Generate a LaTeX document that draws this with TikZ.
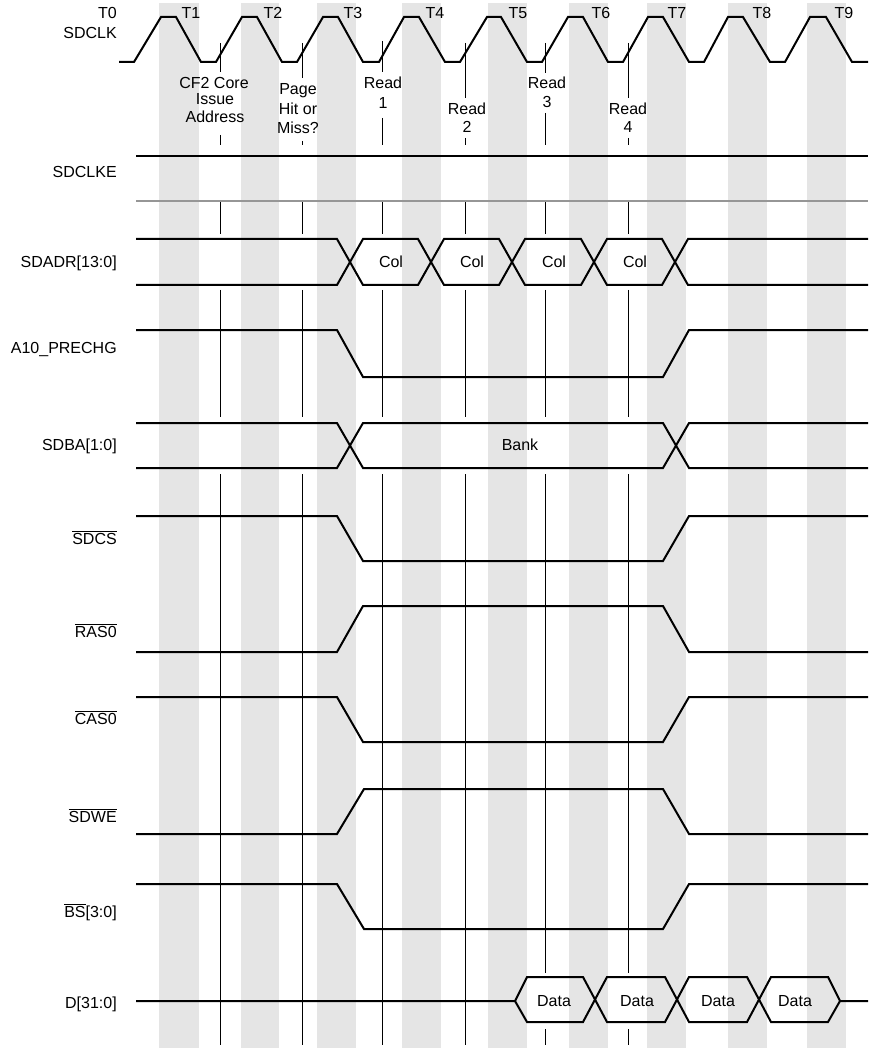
\documentclass[tikz,border=0pt]{standalone}
\usepackage{fontspec}
\setmainfont{Liberation Sans}
\definecolor{stripegray}{RGB}{229,229,229}
\definecolor{linegray}{RGB}{150,150,150}
\newcommand\ovl[1]{$\overline{\mbox{#1}}$}
\begin{document}
\begin{tikzpicture}[x=0.75pt,y=-0.75pt,
  sig/.style={line width=1.5pt},
  mk/.style={line width=0.75pt},
  stripe/.style={fill=stripegray},
  lbl/.style={font=\fontsize{12}{14}\selectfont, inner sep=0pt, text height=8.6pt, text depth=0pt},
  sname/.style={lbl, anchor=east}]
\useasboundingbox (0,0) rectangle (870,1048);
% background stripes
\foreach \a/\b in {159/199, 241/279, 317/356, 402/441, 488/527, 569/608, 647/686, 728/767, 807/846}
  \fill[stripe] (\a,3) rectangle (\b,1048);
% clock
\draw[sig] (119,62) -- (134,62) -- (161,17) -- (176,17) -- (201,62) -- (216,62) -- (242,17) -- (257,17) -- (282,62) -- (297,62) -- (323,17) -- (338,17) -- (363,62) -- (379,62) -- (404,17) -- (419,17) -- (445,62) -- (460,62) -- (487,17) -- (501,17) -- (527,62) -- (542,62) -- (568,17) -- (583,17) -- (608,62) -- (623,62) -- (648,17) -- (663,17) -- (689,62) -- (704,62) -- (728,17) -- (743,17) -- (770,62) -- (785,62) -- (810,17) -- (826,17) -- (852,62) -- (868,62);
% T labels
\node[sname] (t0) at (117,13) {T0};
\node[lbl] (t1) at (191,13) {T1};
\node[lbl] (t2) at (273,13) {T2};
\node[lbl] (t3) at (353,13) {T3};
\node[lbl] (t4) at (435,13) {T4};
\node[lbl] (t5) at (518,13) {T5};
\node[lbl] (t6) at (601,13) {T6};
\node[lbl] (t7) at (677,13) {T7};
\node[lbl] (t8) at (762,13) {T8};
\node[lbl] (t9) at (844,13) {T9};
% signal names
\node[sname] (nclk) at (117,33) {SDCLK};
\node[sname] (ncke) at (117,172) {SDCLKE};
\node[sname] (nadr) at (117,262) {SDADR[13:0]};
\node[sname] (na10) at (117,348) {A10\_PRECHG};
\node[sname] (nba) at (117,445) {SDBA[1:0]};
\node[sname] (ncs) at (117,539) {\ovl{SDCS}};
\node[sname] (nras) at (117,632) {\ovl{RAS0}};
\node[sname] (ncas) at (117,719) {\ovl{CAS0}};
\node[sname] (nwe) at (117,817) {\ovl{SDWE}};
\node[sname] (nbs) at (117,912) {\ovl{BS}[3:0]};
\node[sname] (nd) at (117,1003) {D[31:0]};
% event markers, top part with labels
\draw[mk] (220,43) -- (220,72);
\node[lbl] (e1a) at (214,83) {CF2 Core};
\node[lbl] (e1b) at (215,99) {Issue};
\node[lbl] (e1c) at (215,117) {Address};
\draw[mk] (220,135) -- (220,145);
\draw[mk] (302,43) -- (302,78);
\node[lbl] (e2a) at (298,89) {Page};
\node[lbl] (e2b) at (298,109) {Hit or};
\node[lbl] (e2c) at (298,128) {Miss?};
\draw[mk] (302,141) -- (302,145);
\draw[mk] (382,41) -- (382,72);
\node[lbl] (e3a) at (383,83) {Read};
\node[lbl] (e3b) at (383,103) {1};
\draw[mk] (382,118) -- (382,145);
\draw[mk] (465,43) -- (465,98);
\node[lbl] (e4a) at (467,109) {Read};
\node[lbl] (e4b) at (467,127) {2};
\draw[mk] (465,138) -- (465,145);
\draw[mk] (545,43) -- (545,73);
\node[lbl] (e5a) at (547,83) {Read};
\node[lbl] (e5b) at (547,102) {3};
\draw[mk] (545,113) -- (545,145);
\draw[mk] (628,43) -- (628,98);
\node[lbl] (e6a) at (628,109) {Read};
\node[lbl] (e6b) at (628,127) {4};
\draw[mk] (628,138) -- (628,145);
% event markers, lower part
\foreach \x in {220,302,382,465,545,628} {
  \draw[mk] (\x,202) -- (\x,234);
  \draw[mk] (\x,290) -- (\x,417);
}
\foreach \x in {220,302,382,465}
  \draw[mk] (\x,474) -- (\x,1045);
\foreach \x in {545,628} {
  \draw[mk] (\x,474) -- (\x,973);
  \draw[mk] (\x,1029) -- (\x,1045);
}
% SDCLKE
\draw[sig] (136,156) -- (868,156);
\draw[sig, linegray] (136,201) -- (868,201);
% SDADR
\draw[sig] (136,239) -- (337,239) -- (363,285) -- (418,285) -- (444,239) -- (499,239) -- (525,285) -- (581,285) -- (607,239) -- (662,239) -- (688,285) -- (868,285);
\draw[sig] (136,285) -- (337,285) -- (363,239) -- (418,239) -- (444,285) -- (499,285) -- (525,239) -- (581,239) -- (607,285) -- (662,285) -- (688,239) -- (868,239);
\node[lbl] (c1) at (391,262) {Col};
\node[lbl] (c2) at (472,262) {Col};
\node[lbl] (c3) at (554,262) {Col};
\node[lbl] (c4) at (635,262) {Col};
% A10_PRECHG
\draw[sig] (136,330) -- (337,330) -- (363,377) -- (663,377) -- (689,330) -- (868,330);
% SDBA
\draw[sig] (136,423) -- (337,423) -- (363,468) -- (663,468) -- (689,423) -- (868,423);
\draw[sig] (136,468) -- (337,468) -- (363,423) -- (663,423) -- (689,468) -- (868,468);
\node[lbl] (bank) at (520,445) {Bank};
% SDCS
\draw[sig] (136,516) -- (337,516) -- (363,561) -- (663,561) -- (689,516) -- (868,516);
% RAS0
\draw[sig] (136,652) -- (337,652) -- (363,606) -- (663,606) -- (689,652) -- (868,652);
% CAS0
\draw[sig] (136,697) -- (337,697) -- (363,742) -- (663,742) -- (689,697) -- (868,697);
% SDWE
\draw[sig] (136,834) -- (337,834) -- (364,789) -- (663,789) -- (689,834) -- (868,834);
% BS
\draw[sig] (136,884) -- (337,884) -- (364,929) -- (663,929) -- (689,884) -- (868,884);
% D
\draw[sig] (136,1001) -- (515,1001) -- (527,977) -- (583,977) -- (607,1022) -- (665,1022) -- (689,977) -- (747,977) -- (771,1022) -- (828,1022) -- (840,1001) -- (868,1001);
\draw[sig] (515,1001) -- (527,1022) -- (583,1022) -- (607,977) -- (665,977) -- (689,1022) -- (747,1022) -- (771,977) -- (828,977) -- (840,1001);
\node[lbl] (d1) at (554,1001) {Data};
\node[lbl] (d2) at (637,1001) {Data};
\node[lbl] (d3) at (718,1001) {Data};
\node[lbl] (d4) at (795,1001) {Data};
\end{tikzpicture}
\end{document}
